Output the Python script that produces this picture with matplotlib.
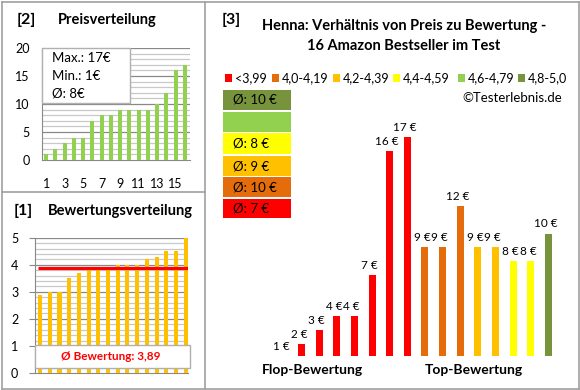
import matplotlib
matplotlib.use("Agg")
import matplotlib.pyplot as plt
from matplotlib.patches import Rectangle
from matplotlib.lines import Line2D
import numpy as np

plt.rcParams['font.family'] = ['Lato', 'DejaVu Sans']

# ---------------- data ----------------
price_dist = [1, 2, 3, 4, 4, 7, 8, 8, 9, 9, 9, 9, 10, 12, 16, 17]
price_xticks = [1, 3, 5, 7, 9, 11, 13, 15]
price_stats = ["Max.: 17€", "Min.: 1€", "Ø: 8€"]

rating_dist = [2.9, 3.0, 3.0, 3.5, 3.7, 3.8, 3.8, 3.8, 4.0, 4.0, 4.0, 4.2, 4.3, 4.5, 4.5, 5.0]
rating_avg = 3.89
rating_label = "Ø Bewertung: 3,89"

bar_prices = [1, 2, 3, 4, 4, 7, 16, 17, 9, 9, 12, 9, 9, 8, 8, 10]
bar_groups = [0, 0, 0, 0, 0, 0, 0, 0, 1, 1, 1, 2, 2, 3, 3, 5]
legend_labels = ["<3,99", "4,0-4,19", "4,2-4,39", "4,4-4,59", "4,6-4,79", "4,8-5,0"]
group_colors = ["#FF0000", "#E46C0A", "#FFC000", "#FFFF00", "#92D050", "#77933C"]
avg_labels = ["Ø: 10 €", "", "Ø: 8 €", "Ø: 9 €", "Ø: 10 €", "Ø: 7 €"]  # from top group 5 down to 0
avg_groups = [5, 4, 3, 2, 1, 0]

W, H = 580, 390
fig = plt.figure(figsize=(W / 100, H / 100), dpi=100)
fig.patch.set_facecolor("white")

def fx(px):
    return px / W

def fy(py):
    return 1 - py / H

def ax_px(l, t, r, b):
    return fig.add_axes([fx(l), fy(b), fx(r) - fx(l), (b - t) / H])

BORDER = "#A0A0A0"
def fline(x0, y0, x1, y1, c=BORDER, lw=1.2):
    fig.add_artist(Line2D([fx(x0), fx(x1)], [fy(y0), fy(y1)], color=c, lw=lw))

fline(1.5, 1.5, 578.5, 1.5)
fline(1.5, 388.5, 578.5, 388.5)
fline(1.5, 1.5, 1.5, 388.5)
fline(578.5, 1.5, 578.5, 388.5)
fline(205, 1.5, 205, 388.5)
fline(1.5, 192, 205, 192)

# ---------------- panel [2] ----------------
ax2 = ax_px(42, 48, 190, 160)
x2 = np.arange(1, len(price_dist) + 1)
ax2.bar(x2, price_dist, width=0.45, color="#92D050", zorder=3)
ax2.set_xlim(0.55, 16.55)
ax2.set_ylim(0, 20)
for v in range(1, 21):
    ax2.axhline(v, color="#888888" if v % 5 == 0 else "#C8C8C8", lw=0.9, zorder=1)
ax2.set_yticks([0, 5, 10, 15, 20])
ax2.set_xticks(price_xticks)
ax2.tick_params(axis="y", length=0, pad=9, labelsize=9)
ax2.tick_params(axis="x", length=0, pad=13, labelsize=9)
for s in ["top", "right"]:
    ax2.spines[s].set_visible(False)
ax2.spines["left"].set_color("#888888")
ax2.spines["bottom"].set_color("#888888")

fig.add_artist(Rectangle((fx(42), fy(103)), fx(130) - fx(42), (103 - 48) / H,
                         facecolor="white", edgecolor="#B0B0B0", lw=1, zorder=5))
rows = [(48, 67.5), (67.5, 85), (85, 103)]
for (t, b), s in zip(rows, price_stats):
    if t > 48:
        fline(42, t, 130, t, c="#B0B0B0", lw=1)
    fig.text(fx(52), fy((t + b) / 2), s, fontsize=9.5, va="center", ha="left", zorder=6)

fig.text(fx(17), fy(20), "[2]", fontsize=11.5, fontweight="bold", va="center", ha="left")
fig.text(fx(58), fy(20), "Preisverteilung", fontsize=10.5, fontweight="bold", va="center", ha="left")

# ---------------- panel [1] ----------------
ax1 = ax_px(35, 237.7, 188, 373)
x1 = np.arange(len(rating_dist))
ax1.bar(x1, rating_dist, width=0.42, color="#FFC000", zorder=3)
ax1.set_xlim(-0.52, 15.24)
ax1.set_ylim(0, 5)
for k in range(1, 26):
    v = k * 0.2
    major = abs(v - round(v)) < 1e-6
    ax1.axhline(v, color="#888888" if major else "#C8C8C8", lw=0.9, zorder=1)
ax1.plot([-0.22, 15.24], [rating_avg, rating_avg], color="#FF0000", lw=2.3, zorder=4, solid_capstyle="butt")
ax1.set_yticks([0, 1, 2, 3, 4, 5])
ax1.set_xticks([])
ax1.tick_params(axis="y", length=4, color="#888888", pad=8, labelsize=9)
for s in ["top", "right"]:
    ax1.spines[s].set_visible(False)
ax1.spines["left"].set_color("#888888")
ax1.spines["bottom"].set_color("#888888")

fig.add_artist(Rectangle((fx(35), fy(368)), fx(190) - fx(35), (368 - 345) / H,
                         facecolor="white", edgecolor="#B0B0B0", lw=1, zorder=5))
fig.text(fx(111), fy(357), rating_label, color="#FF0000", fontsize=8.5, fontweight="bold",
         ha="center", va="center", zorder=6)

fig.text(fx(14), fy(211), "[1]", fontsize=11.5, fontweight="bold", va="center", ha="left")
fig.text(fx(48), fy(211), "Bewertungsverteilung", fontsize=10.5, fontweight="bold", va="center", ha="left")

# ---------------- panel [3] ----------------
fig.text(fx(222), fy(20), "[3]", fontsize=11.5, fontweight="bold", va="center", ha="left")
fig.text(fx(404), fy(36), "Henna: Verhältnis von Preis zu Bewertung -\n16 Amazon Bestseller im Test",
         fontsize=10.5, fontweight="bold", ha="center", va="center", linespacing=1.55)

leg_x = [225, 272, 333, 393, 458, 518]
for lx, lab, col in zip(leg_x, legend_labels, group_colors):
    fig.add_artist(Rectangle((fx(lx), fy(81.5)), 7 / W, 7 / H, facecolor=col, edgecolor="none"))
    fig.text(fx(lx + 10), fy(78), lab, fontsize=9, va="center", ha="left")
fig.text(fx(562), fy(98), "©Testerlebnis.de", fontsize=9.5, va="center", ha="right")

box_rows = [(90, 110), (112, 132), (133, 154), (156, 176), (177, 197), (199, 218)]
for (t, b), g, lab in zip(box_rows, avg_groups, avg_labels):
    fig.add_artist(Rectangle((fx(223), fy(b)), fx(291) - fx(223), (b - t) / H,
                             facecolor=group_colors[g], edgecolor="none"))
    if lab:
        fig.text(fx(233), fy((t + b) / 2), lab, fontsize=9.5, va="center", ha="left")

L, R, T, B = 250, 570, 60, 355.7
ax3 = ax_px(L, T, R, B)
spacing = 17.62
x3 = np.arange(len(bar_prices))
ax3.set_xlim((L - 284) / spacing, (R - 284) / spacing)
v0 = 1.15
ax3.set_ylim(v0, v0 + (B - T) / 13.8)
cols = [group_colors[g] for g in bar_groups]
ax3.bar(x3, bar_prices, width=0.4, color=cols, bottom=0, zorder=3)
for xi, v in zip(x3, bar_prices):
    ax3.annotate(f"{v} €", (xi, max(v, v0)), xytext=(-2, 3), textcoords="offset points",
                 ha="center", va="bottom", fontsize=8.5)
ax3.axis("off")

fig.text(fx(312), fy(370), "Flop-Bewertung", fontsize=10, fontweight="bold", ha="center", va="center")
fig.text(fx(474), fy(370), "Top-Bewertung", fontsize=10, fontweight="bold", ha="center", va="center")

fig.savefig("out.png", dpi=100, facecolor="white")
